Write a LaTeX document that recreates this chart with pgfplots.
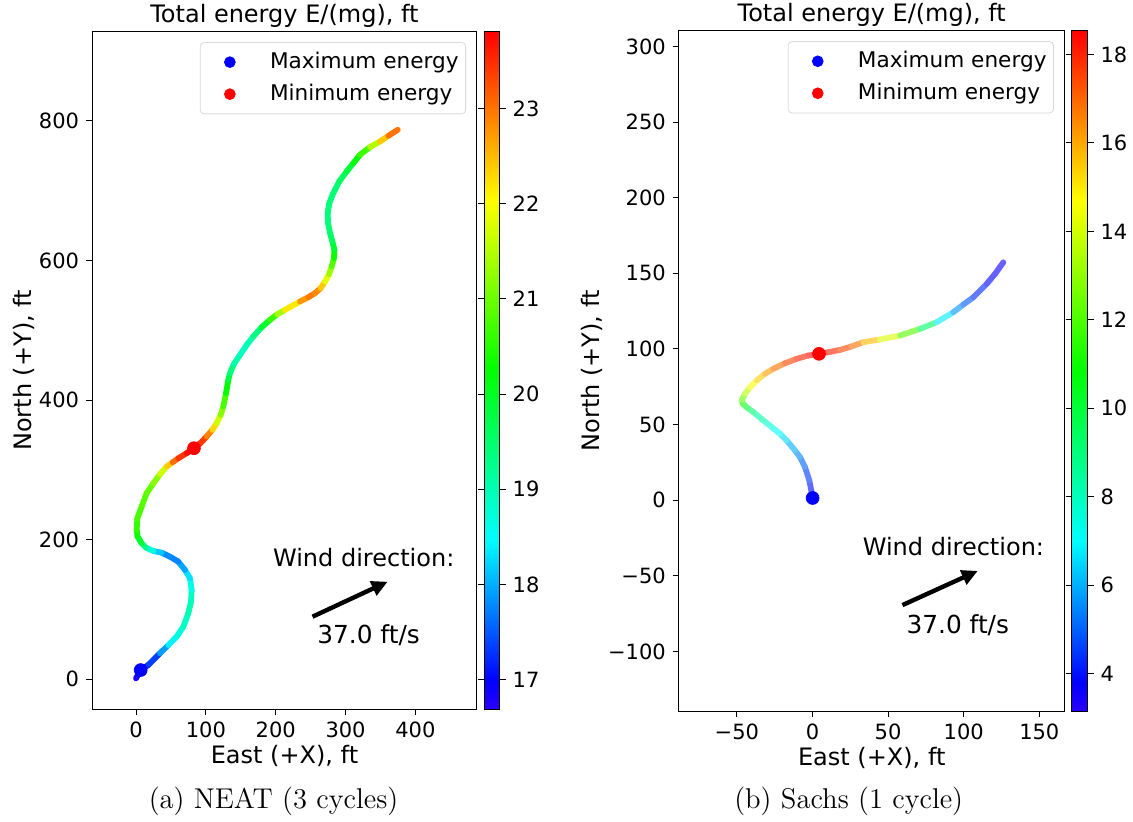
\documentclass[border=0pt]{standalone}
\usepackage{fontspec}
\usepackage{pgfplots}
\usepackage{pgfplotstable}
\pgfplotsset{compat=1.18}
\usetikzlibrary{arrows.meta}
\newfontfamily\dejavu{DejaVu Sans}
\newcommand\tickfont{\dejavu\fontsize{10.5}{12}\selectfont}
\newcommand\legfont{\dejavu\fontsize{10.8}{12.5}\selectfont}
\newcommand\labfont{\dejavu\fontsize{12}{14}\selectfont}

\pgfplotstableread{
x y c
-0.1 1.4 16.75
6.5 13.3 16.85
17.5 20.5 17.1
34.2 37.2 17.6
46.2 49.1 18.2
58.1 61.1 18.6
67.7 75.4 18.8
74.8 94.5 19.0
78.7 111.2 19.0
79.6 127.9 18.8
77.2 144.6 18.5
70.1 156.6 18.1
60.5 168.5 17.8
48.6 175.7 17.7
36.6 181.4 17.9
24.7 183.8 18.4
14.2 188.6 19.0
8.0 194.8 19.6
2.2 204.4 20.2
0.8 213.9 20.5
1.8 230.6 20.7
8.0 247.3 20.8
15.1 266.5 20.9
24.7 280.7 21.0
34.2 293.7 21.4
43.8 304.7 22.0
52.4 310.9 22.8
60.5 316.6 23.3
72.4 323.8 23.6
82.9 331.0 23.8
93.0 339.1 23.6
101.1 347.7 23.2
109.2 357.3 22.6
115.4 366.8 22.0
121.2 378.7 21.4
124.9 390.6 21.0
128.8 409.7 20.5
132.1 428.8 20.0
134.5 438.4 19.6
140.2 451.7 19.2
148.8 464.6 18.9
158.4 478.9 18.9
167.9 490.9 19.1
179.9 504.3 19.6
191.8 514.8 20.3
202.3 522.9 21.0
213.3 529.1 21.8
234.8 541.1 22.6
246.8 547.3 22.9
256.3 553.0 23.0
264.4 560.2 22.7
270.7 569.8 22.1
276.4 580.3 21.6
280.2 591.3 21.1
283.5 603.2 20.6
284.0 615.2 20.1
281.1 627.1 19.7
277.8 639.0 19.5
274.9 653.4 19.4
274.4 667.7 19.4
276.8 682.1 19.4
282.5 696.4 19.4
291.1 713.1 19.5
301.6 727.4 19.7
311.2 739.3 20.0
320.7 751.3 20.4
335.1 762.3 21.0
349.4 770.2 22.0
361.4 778.4 22.8
374.8 787.0 23.2
}\neattab

\pgfplotstableread{
x y c
0.1 1.5 3.6
-0.6 5.5 3.8
-2.1 13.2 4.2
-5.0 22.0 4.8
-8.3 28.6 5.3
-11.6 33.0 5.7
-17.1 39.6 6.3
-21.5 44.0 6.8
-27.0 48.4 7.3
-32.5 52.8 7.9
-39.1 58.3 8.8
-43.1 61.2 9.6
-46.2 63.8 10.8
-46.6 66.4 11.8
-44.6 70.4 13.0
-41.3 74.8 14.2
-36.9 79.2 15.0
-31.4 83.6 15.8
-25.9 86.9 16.5
-18.2 90.6 17.2
-10.5 93.5 17.8
-2.8 95.7 18.2
4.3 96.8 18.5
11.6 98.1 18.2
18.2 99.4 17.8
25.9 101.7 17.2
33.6 104.5 16.5
44.6 106.3 15.0
57.9 108.9 13.3
71.1 113.3 11.0
82.1 117.7 7.5
93.1 124.3 6.0
99.8 129.4 5.3
106.4 134.2 4.6
115.2 143.0 4.0
120.7 149.6 3.7
126.2 157.3 3.5
}\sachstab

\pgfplotsset{
  colormap={myrblight}{rgb255(0cm)=(123,97,255) rgb255(1cm)=(97,97,255) rgb255(6cm)=(97,255,255) rgb255(12cm)=(97,255,97) rgb255(18cm)=(255,255,97) rgb255(24cm)=(255,97,97)},
  colormap={myrb}{rgb255(0cm)=(42,0,255) rgb255(1cm)=(0,0,255) rgb255(6cm)=(0,255,255) rgb255(12cm)=(0,255,0) rgb255(18cm)=(255,255,0) rgb255(24cm)=(255,0,0)},
  colorbar shift/.style={xshift=3.6pt},
  myax/.style={
    scale only axis,
    anchor=south west,
    axis line style={line width=0.5pt, black},
    tick align=outside,
    xtick pos=bottom, ytick pos=left,
    major tick length=3pt,
    tick style={black, line width=0.5pt},
    tick label style={font=\tickfont},
    /pgf/number format/assume math mode=true,
    every axis title shift=0pt,
    title style={font=\labfont, at={(0.5,1)}, anchor=base, yshift=4.5pt},
    xlabel style={font=\labfont, at={(axis description cs:0.5,0)}, anchor=base, yshift=-27.4pt},
    ylabel style={font=\labfont, anchor=base},
    colorbar, colormap name=myrb,
    legend style={anchor=north east, draw=black!15, rounded corners=2pt,
      fill=white, fill opacity=0.8, text opacity=1, font=\legfont,
      inner xsep=2pt, inner ysep=3.5pt, row sep=3.3pt,
      nodes={inner sep=1.5pt}},
    legend cell align=left,
    legend image code/.code={\path (0pt,0pt) (31pt,0pt); \draw[##1, mark size=2.7pt, opacity=1, fill opacity=1, draw opacity=1] plot coordinates {(12.6pt,0pt)};},
  },
  cb/.style={
    colorbar style={at={(parent axis.north east)}, anchor=north west,
      scale only axis, width=7.8pt, height=#1,
      axis line style={line width=0.5pt, black},
      tick align=outside, major tick length=3pt,
      tick style={black, line width=0.5pt},
      yticklabel style={font=\tickfont},
      /pgf/number format/assume math mode=true},
  },
  traj/.style={mesh, point meta=explicit, line width=2.9pt, line cap=round, line join=round, forget plot},
}

\begin{document}
\begin{tikzpicture}
\path[use as bounding box] (0pt,0pt) rectangle (566.5pt,410.5pt);

\begin{axis}[myax,
  at={(46.05pt,56pt)}, width=192.35pt, height=338.7pt,
  xmin=-63, xmax=488, ymin=-42.5, ymax=927.6,
  xtick={0,100,200,300,400}, xticklabels={0,100,200,300,400},
  ytick={0,200,400,600,800}, yticklabels={0,200,400,600,800},
  title={Total energy E/(mg), ft},
  xlabel={East (+X), ft},
  ylabel={North (+Y), ft},
  ylabel style={at={(axis description cs:-0.1578,0.5)}},
  point meta min=16.69, point meta max=23.81,
  cb=338.7pt,
  colorbar style={ytick={17,18,19,20,21,22,23}, yticklabels={17,18,19,20,21,22,23}},
  legend style={at={(0.972,0.9846)}},
]
\addplot[traj] table[x=x, y=y, meta=c] {\neattab};
\addplot[only marks, mark=*, mark size=3.2pt, color=blue, mark options={fill=blue, draw=none}] coordinates {(6.6,13.3)};
\addlegendentry{Maximum energy}
\addplot[only marks, mark=*, mark size=3.2pt, color=red, mark options={fill=red, draw=none}] coordinates {(82.9,331.0)};
\addlegendentry{Minimum energy}
\draw[black, line width=2.2pt, -{Triangle[length=8pt,width=7.5pt]}] (axis cs:252.7,89.7) -- (axis cs:360.3,139.8);
\node[font=\labfont, anchor=base] at (axis cs:326,161.3) {Wind direction:};
\node[font=\dejavu\fontsize{12.4}{14}\selectfont, anchor=base] at (axis cs:333,52) {37.0 ft/s};
\end{axis}

\begin{axis}[myax,
  at={(339.4pt,55pt)}, width=192.95pt, height=340.15pt,
  xmin=-88.4, xmax=166.8, ymin=-139.3, ymax=310.4,
  xtick={-50,0,50,100,150}, xticklabels={−50,0,50,100,150},
  ytick={-100,-50,0,50,100,150,200,250,300}, yticklabels={−100,−50,0,50,100,150,200,250,300},
  title={Total energy E/(mg), ft},
  xlabel={East (+X), ft},
  ylabel={North (+Y), ft},
  ylabel style={at={(axis description cs:-0.2055,0.5)}},
  point meta min=3.15, point meta max=18.54,
  cb=340.15pt,
  colorbar style={ytick={4,6,8,10,12,14,16,18}, yticklabels={4,6,8,10,12,14,16,18}},
  legend style={at={(0.972,0.9846)}},
]
\addplot[traj, colormap name=myrblight] table[x=x, y=y, meta=c] {\sachstab};
\addplot[only marks, mark=*, mark size=3.2pt, color=blue, mark options={fill=blue, draw=none}] coordinates {(0.1,1.5)};
\addlegendentry{Maximum energy}
\addplot[only marks, mark=*, mark size=3.2pt, color=red, mark options={fill=red, draw=none}] coordinates {(4.3,96.8)};
\addlegendentry{Minimum energy}
\draw[black, line width=2.2pt, -{Triangle[length=8pt,width=7.5pt]}] (axis cs:59.5,-69.3) -- (axis cs:109.3,-46.7);
\node[font=\labfont, anchor=base] at (axis cs:93.2,-36.3) {Wind direction:};
\node[font=\dejavu\fontsize{12.4}{14}\selectfont, anchor=base] at (axis cs:96.1,-88) {37.0 ft/s};
\end{axis}

\node[anchor=base, font=\rmfamily\fontsize{14.3}{17}\selectfont] at (136.75pt,6.5pt) {(a) NEAT (3 cycles)};
\node[anchor=base, font=\rmfamily\fontsize{14.3}{17}\selectfont] at (424.35pt,6.5pt) {(b) Sachs (1 cycle)};
\end{tikzpicture}
\end{document}
